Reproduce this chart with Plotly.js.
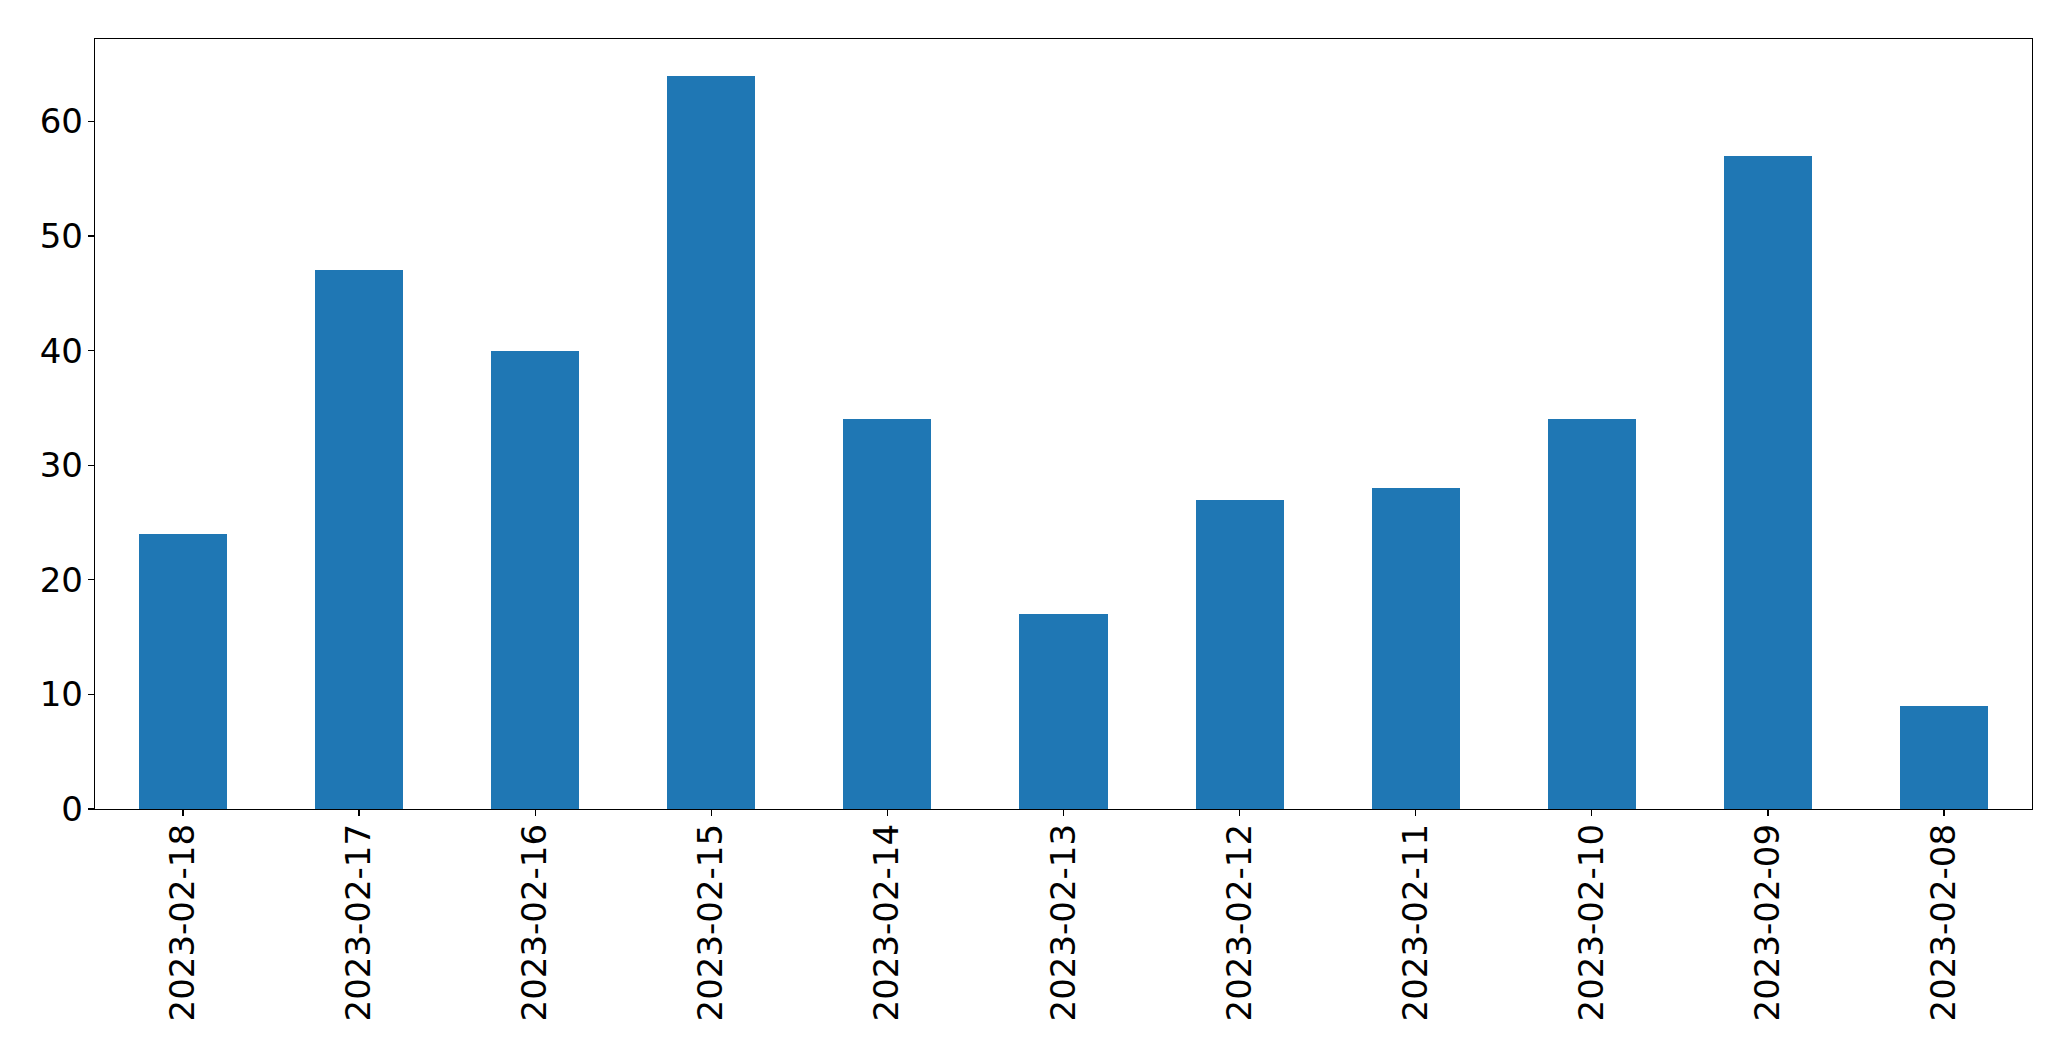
<!DOCTYPE html>
<html>
<head>
<meta charset="utf-8">
<script src="https://cdn.plot.ly/plotly-3.0.1.min.js"></script>
<style>html,body{margin:0;padding:0;background:#fff;}#chart{width:2071px;height:1061px;}</style>
</head>
<body>
<div id="chart"></div>
<script>
const categories = ["2023-02-18","2023-02-17","2023-02-16","2023-02-15","2023-02-14","2023-02-13","2023-02-12","2023-02-11","2023-02-10","2023-02-09","2023-02-08"];
const values = [24, 47, 40, 64, 34, 17, 27, 28, 34, 57, 9];
const yTicks = [0, 10, 20, 30, 40, 50, 60];

const maxV = Math.max(...values);
const trace = {
  type: 'bar',
  x: categories,
  y: values,
  width: 0.5,
  marker: {color: '#1f77b4', line: {width: 0}},
  hoverinfo: 'x+y'
};
const font = {family: 'DejaVu Sans, sans-serif', size: 34, color: '#000'};
const layout = {
  width: 2071, height: 1061,
  margin: {l: 95, r: 39, t: 39, b: 252, pad: 0},
  paper_bgcolor: '#fff', plot_bgcolor: '#fff',
  showlegend: false,
  bargap: 0,
  font: font,
  xaxis: {
    type: 'category',
    range: [-0.5, categories.length - 0.5],
    tickangle: -90,
    ticks: 'outside', ticklen: 6, tickwidth: 1.3, tickcolor: '#000',
    showline: true, linecolor: '#000', linewidth: 1.3, mirror: true,
    showgrid: false, zeroline: false,
    tickfont: font,
    ticklabelstandoff: -6
  },
  yaxis: {
    range: [0, maxV * 1.05],
    tickvals: yTicks,
    ticktext: yTicks.map(String),
    ticks: 'outside', ticklen: 6, tickwidth: 1.3, tickcolor: '#000',
    showline: true, linecolor: '#000', linewidth: 1.3, mirror: true,
    showgrid: false, zeroline: false,
    tickfont: font,
    ticklabelstandoff: -2
  }
};
Plotly.newPlot('chart', [trace], layout, {staticPlot: true, displayModeBar: false});
</script>
</body>
</html>
